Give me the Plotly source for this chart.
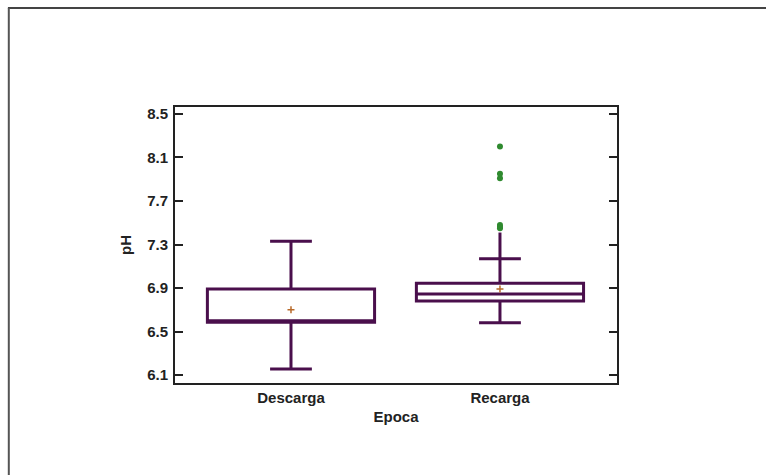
import plotly.graph_objects as go

categories = ["Descarga", "Recarga"]
positions = [0, 1]
q1 = [6.585, 6.78]
median = [6.60, 6.845]
q3 = [6.89, 6.945]
lower_whisker = [6.155, 6.58]
upper_whisker = [7.33, 7.17]
means = [6.70, 6.89]
# Recarga: extra vertical segment above the cap
recarga_extra_top = 7.41
outliers_recarga = [8.20, 7.95, 7.91, 7.48, 7.46, 7.45]
y_ticks = [6.1, 6.5, 6.9, 7.3, 7.7, 8.1, 8.5]

line_col = "#4a0f4c"
font = dict(family="Liberation Sans, Arial, sans-serif", size=15, color="#222", weight="bold")

fig = go.Figure()
for i, name in enumerate(categories):
    fig.add_trace(go.Box(
        x=[positions[i]], q1=[q1[i]], median=[median[i]], q3=[q3[i]],
        lowerfence=[lower_whisker[i]], upperfence=[upper_whisker[i]],
        width=0.8, whiskerwidth=0.25, fillcolor="rgba(0,0,0,0)",
        line=dict(color=line_col, width=3), boxpoints=False,
        showlegend=False, hoverinfo="skip", name=name,
    ))

fig.add_trace(go.Scatter(
    x=[positions[1], positions[1]], y=[upper_whisker[1], recarga_extra_top],
    mode="lines", line=dict(color=line_col, width=3), showlegend=False, hoverinfo="skip"))

fig.add_trace(go.Scatter(
    x=[positions[1]] * len(outliers_recarga), y=outliers_recarga, mode="markers",
    marker=dict(color="#2f8a2f", size=6), showlegend=False))

fig.add_trace(go.Scatter(
    x=positions, y=means, mode="markers",
    marker=dict(symbol="cross-thin", size=5, line=dict(color="#b86a2a", width=1.5)),
    showlegend=False))

fig.update_layout(
    width=766, height=475, margin=dict(l=175, r=149, t=107, b=92),
    paper_bgcolor="white", plot_bgcolor="white", font=font,
    xaxis=dict(range=[-0.555, 1.56], tickvals=positions, ticktext=categories,
               showgrid=False, zeroline=False, ticks="", showline=True,
               linecolor="#222", linewidth=2, mirror=True,
               title=dict(text="Epoca", font=font, standoff=6)),
    yaxis=dict(range=[6.027, 8.564], tickvals=y_ticks, ticktext=[f"{v:.1f}" for v in y_ticks],
               showgrid=False, zeroline=False, ticks="inside", ticklen=8, tickwidth=1.5,
               tickcolor="#222", showline=True, linecolor="#222", linewidth=2, mirror="ticks",
               ticklabelstandoff=2,
               title=dict(text="pH", font=font, standoff=12)),
    shapes=[
        dict(type="line", xref="paper", yref="paper", x0=-0.378, x1=1.34, y0=1.3587, y1=1.3587,
             line=dict(color="#444", width=2)),
        dict(type="line", xref="paper", yref="paper", x0=-0.376, x1=-0.376, y0=1.3587, y1=-0.34,
             line=dict(color="#555", width=2)),
    ],
)

fig.write_html("out.html")
